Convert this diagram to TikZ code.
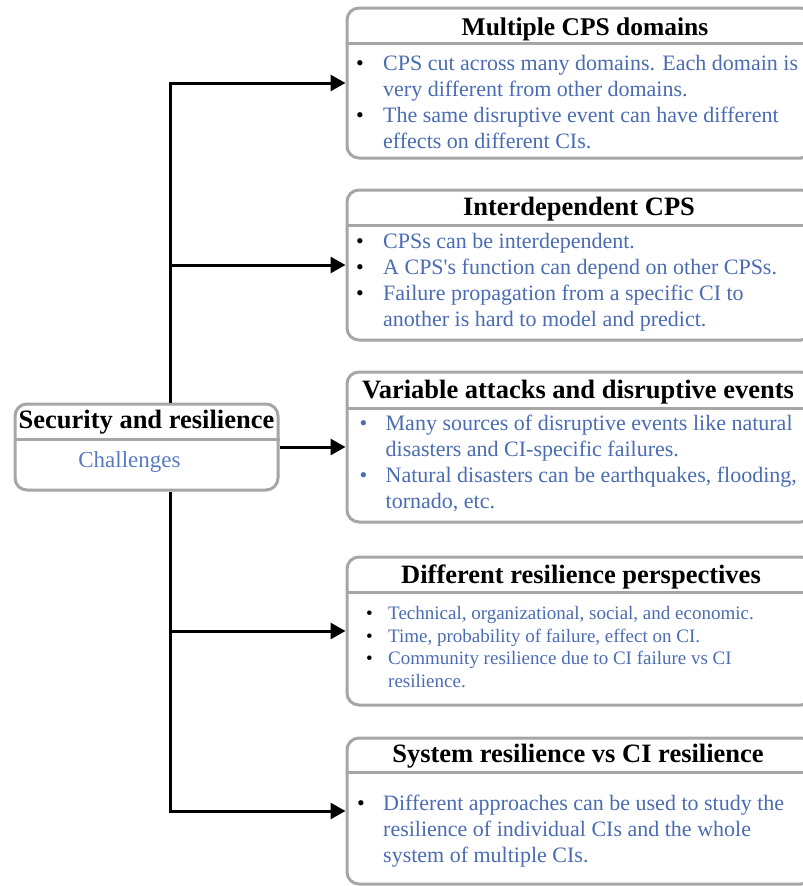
\documentclass[tikz,border=0pt]{standalone}
\usepackage{fontspec}
\setmainfont{Liberation Serif}
\usetikzlibrary{arrows.meta,positioning,calc}
\definecolor{framegray}{HTML}{A6A6A6}
\definecolor{itemblue}{HTML}{4A6CB2}
\definecolor{rootblue}{HTML}{5A7BC4}

\newcommand{\titlefont}{\fontsize{26.5}{30}\selectfont\bfseries}
\newcommand{\itemfont}{\fontsize{22}{26}\selectfont}
\newcommand{\smallitemfont}{\fontsize{19}{22.7}\selectfont}
\newcommand{\blk}{\textcolor{black}{\textbullet}}

\begin{document}
\begin{tikzpicture}[x=1pt, y=-1pt, >={Triangle[length=15pt,width=16pt]},
  frame/.style={draw=framegray, line width=3pt, rounded corners=12pt, fill=white, anchor=north west, minimum width=466pt, inner sep=0pt},
  divider/.style={draw=framegray, line width=3pt},
  head/.style={anchor=base, font=\titlefont, inner sep=0pt},
  items/.style={anchor=base west, inner sep=0pt, text=itemblue, font=\itemfont},
  link/.style={->, line width=3pt}]
  \useasboundingbox (0,0) rectangle (803,886);

  % root
  \node[frame, minimum width=263pt, minimum height=86pt] (root) at (13.5,402.5) {};
  \draw[divider] (root.west |- 0,439) -- (root.east |- 0,439);
  \node[head] (roottitle) at (146.5,428) {Security and resilience};
  \node[anchor=base, inner sep=0pt, text=rootblue, font=\fontsize{23}{27}\selectfont] (rootsub) at (129.5,467) {Challenges};

  % challenge boxes
  \node[frame, minimum height=150pt] (dom) at (345.5,6.5) {};
  \draw[divider] (dom.west |- 0,43) -- (dom.east |- 0,43);
  \node[head, font=\fontsize{25.5}{30}\selectfont\bfseries] (domtitle) at (585,35) {Multiple CPS domains};
  \node[items] (domitems) at (356,70) {\begin{tabular}[t]{@{}p{27pt}@{}l@{}}
    \blk & CPS cut across many domains. Each domain is\\
         & very different from other domains.\\
    \blk & The same disruptive event can have different\\
         & effects on different CIs.
  \end{tabular}};

  \node[frame, minimum height=150pt] (inter) at (345.5,188.5) {};
  \draw[divider] (inter.west |- 0,225) -- (inter.east |- 0,225);
  \node[head] (intertitle) at (579,215) {Interdependent CPS};
  \node[items] (interitems) at (356,248.5) {\begin{tabular}[t]{@{}p{27pt}@{}l@{}}
    \blk & CPSs can be interdependent.\\
    \blk & A CPS\textquotesingle s function can depend on other CPSs.\\
    \blk & Failure propagation from a specific CI to\\
         & another is hard to model and predict.
  \end{tabular}};

  \node[frame, minimum height=150pt] (var) at (345.5,370.5) {};
  \draw[divider] (var.west |- 0,408) -- (var.east |- 0,408);
  \node[head] (vartitle) at (578,398) {Variable attacks and disruptive events};
  \node[items] (varitems) at (359.5,430) {\begin{tabular}[t]{@{}p{26pt}@{}l@{}}
    \textbullet & Many sources of disruptive events like natural\\
                & disasters and CI-specific failures.\\
    \textbullet & Natural disasters can be earthquakes, flooding,\\
                & tornado, etc.
  \end{tabular}};

  \node[frame, minimum height=148pt] (persp) at (345.5,555.5) {};
  \draw[divider] (persp.west |- 0,592) -- (persp.east |- 0,592);
  \node[head] (persptitle) at (581,583) {Different resilience perspectives};
  \node[items, font=\smallitemfont] (perspitems) at (366,619.5) {\begin{tabular}[t]{@{}p{22pt}@{}l@{}}
    \blk & Technical, organizational, social, and economic.\\
    \blk & Time, probability of failure, effect on CI.\\
    \blk & Community resilience due to CI failure vs CI\\
         & resilience.
  \end{tabular}};

  \node[frame, minimum height=146pt] (sys) at (345.5,736.5) {};
  \draw[divider] (sys.west |- 0,772) -- (sys.east |- 0,772);
  \node[head] (systitle) at (578,762) {System resilience vs CI resilience};
  \node[items] (sysitems) at (357,810) {\begin{tabular}[t]{@{}p{26pt}@{}l@{}}
    \blk & Different approaches can be used to study the\\
         & resilience of individual CIs and the whole\\
         & system of multiple CIs.
  \end{tabular}};

  % connectors
  \coordinate (trunk) at (170,0);
  \draw[link] (root.north -| trunk) |- (dom);
  \draw[link] (root.north -| trunk) |- (inter);
  \draw[link] (root) -- (var);
  \draw[link] (root.south -| trunk) |- (persp);
  \draw[link] (root.south -| trunk) |- (sys);
\end{tikzpicture}
\end{document}
